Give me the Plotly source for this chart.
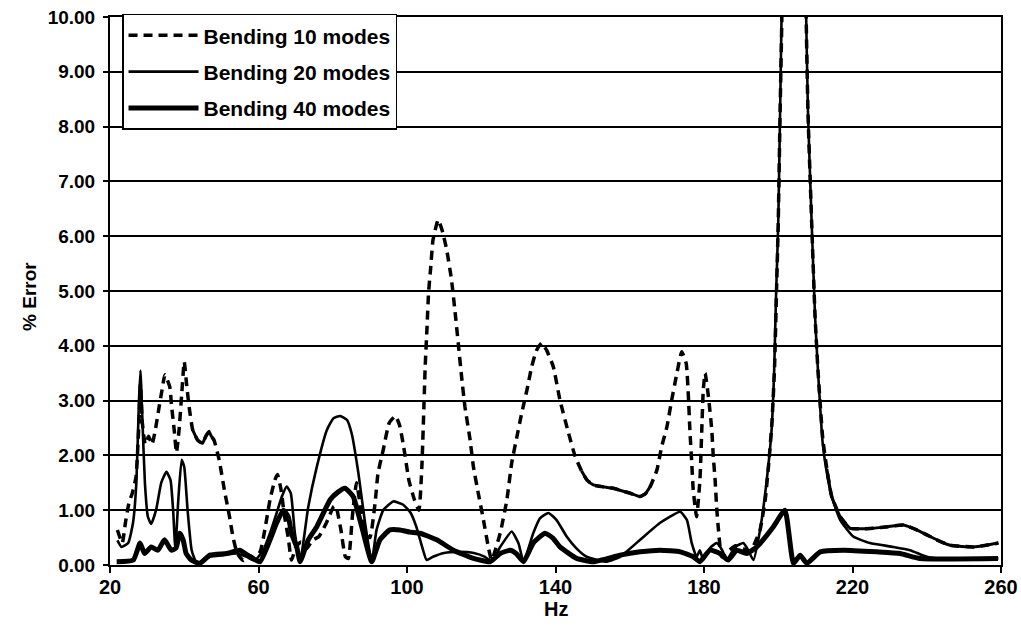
import plotly.graph_objects as go

# Frequency (Hz) and percent error for each bending-mode truncation
hz_10 = [22.0, 23.3, 24.2, 25.1, 26.0, 27.0, 27.8, 28.2, 28.7, 29.5, 30.4, 31.3, 32.2, 33.1, 34.0, 34.8,
         36.1, 36.6, 37.3, 37.9, 38.6, 39.3, 40.0, 40.6, 41.3, 42.3, 43.6, 44.9, 45.8, 46.7, 47.3, 48.0,
         49.4, 50.8, 52.2, 53.1, 54.0, 54.9, 56.0, 57.5, 59.0, 60.5, 61.7, 63.1, 64.4, 65.1, 66.0, 67.0,
         68.0, 68.9, 70.2, 71.5, 73.0, 74.5, 76.3, 78.3, 80.2, 80.8, 82.2, 83.4, 84.2, 85.3, 86.4, 87.6,
         88.8, 90.0, 91.4, 92.2, 93.6, 95.2, 96.9, 98.0, 99.1, 100.5, 102.0, 103.2, 104.0, 104.9, 105.4,
         105.8, 106.4, 107.0, 108.4, 109.5, 110.7, 112.0, 112.9, 113.8, 114.7, 115.6, 117.0, 117.9, 119.2,
         120.6, 121.9, 122.8, 125.1, 126.9, 128.2, 129.6, 130.9, 132.3, 133.6, 134.9, 136.3, 137.6, 139.4,
         141.2, 143.5, 145.3, 147.0, 148.5, 150.2, 152.5, 155.6, 158.0, 160.1, 162.8, 164.2, 165.5, 167.3,
         168.6, 170.0, 171.3, 172.7, 174.0, 175.2, 175.8, 176.2, 176.7, 177.1, 178.0, 178.9, 179.4, 179.8,
         180.3, 181.2, 182.1, 182.5, 183.0, 183.4, 183.9, 184.8, 186.5, 188.5, 190.5, 192.5, 194.0, 195.1,
         196.5, 197.5, 198.3, 199.0, 199.5, 200.0, 200.5, 201.1, 204.3, 207.4, 208.0, 209.0, 209.9, 210.7,
         212.0, 213.1, 214.4, 216.7, 219.4, 222.5, 225.6, 229.5, 233.7, 237.3, 240.0, 242.7, 246.3, 252.6,
         256.0, 259.3]
err_10 = [0.64, 0.40, 0.79, 1.13, 1.31, 1.60, 2.60, 3.30, 2.60, 2.20, 2.35, 2.20, 2.46, 2.83, 3.19, 3.47,
          3.25, 2.89, 2.46, 2.05, 2.46, 3.10, 3.71, 3.32, 2.89, 2.46, 2.28, 2.22, 2.35, 2.43, 2.35, 2.28,
          1.92, 1.37, 0.88, 0.52, 0.27, 0.15, 0.08, 0.18, 0.12, 0.25, 0.64, 1.19, 1.55, 1.65, 1.40, 0.90,
          0.50, 0.09, 0.35, 0.42, 0.30, 0.45, 0.52, 0.77, 1.06, 1.08, 0.64, 0.15, 0.12, 0.90, 1.50, 1.00,
          0.55, 0.50, 1.13, 1.68, 2.10, 2.59, 2.72, 2.55, 2.16, 1.55, 1.19, 1.00, 1.79, 3.62, 4.35,
          4.96, 5.44, 5.93, 6.30, 6.10, 5.75, 5.20, 4.65, 4.05, 3.44, 2.89, 2.28, 1.79, 1.31,
          0.82, 0.33, 0.09, 0.58, 1.19, 1.86, 2.34, 2.77, 3.19, 3.62, 3.92, 4.05, 3.92, 3.62,
          3.01, 2.41, 1.98, 1.72, 1.55, 1.46, 1.43, 1.40, 1.35, 1.31, 1.25, 1.30, 1.43, 1.73,
          2.16, 2.52, 3.01, 3.50, 3.89, 3.68, 3.07, 2.46, 1.86, 1.37, 0.88, 1.55, 2.46, 3.19,
          3.50, 3.07, 2.46, 1.98, 1.55, 1.06, 0.64, 0.15, 0.25, 0.35, 0.30, 0.25, 0.45, 0.64,
          1.20, 1.90, 2.60, 3.60, 4.90, 6.25, 8.28, 10.5, 30.0, 10.5, 8.28, 6.25, 4.56, 3.55,
          2.30, 1.75, 1.25, 0.88, 0.67, 0.66, 0.67, 0.70, 0.73, 0.64, 0.55, 0.46, 0.36, 0.33,
          0.36, 0.40]

hz_20 = [22.0, 23.1, 24.9, 26.2, 27.1, 27.8, 28.2, 28.7, 29.4, 30.2, 31.1, 32.4, 33.8, 35.2, 36.3, 37.0,
         37.6, 38.4, 39.3, 40.0, 40.9, 42.0, 43.4, 46.9, 50.5, 54.1, 56.8, 59.0, 61.5, 63.1, 64.9, 66.3,
         67.6, 68.7, 69.8, 71.2, 73.4, 75.7, 78.4, 80.2, 82.0, 83.8, 85.1, 86.9, 88.7, 90.5, 91.8, 93.6,
         96.3, 99.0, 101.0, 102.5, 104.0, 105.3, 107.0, 110.0, 114.0, 118.0, 121.0, 122.8, 125.1, 128.2,
         130.0, 131.4, 134.0, 135.8, 138.1, 140.3, 143.0, 145.7, 148.4, 153.8, 157.4, 162.8, 168.2, 173.6,
         175.4, 176.7, 178.0, 178.9, 179.8, 181.6, 183.4, 184.9, 186.1, 188.4, 190.6, 191.9, 193.3, 195.1,
         196.9, 198.2, 198.9, 199.4, 200.0, 200.5, 201.0, 204.3, 207.4, 208.0, 209.0, 209.9, 210.7, 212.0,
         213.1, 214.4, 216.7, 220.2, 224.7, 231.0, 235.5, 240.0, 244.5, 259.3]
err_20 = [0.45, 0.33, 0.40, 0.77, 1.50, 3.00, 3.55, 2.70, 1.50, 0.88, 0.75, 1.00, 1.50, 1.70, 1.55, 1.00,
          0.30, 1.19, 1.92, 1.79, 1.00, 0.27, 0.03, 0.15, 0.18, 0.21, 0.15, 0.08, 0.30, 0.58, 0.95, 1.25,
          1.43, 1.31, 0.58, 0.06, 1.06, 1.79, 2.46, 2.68, 2.72, 2.65, 2.40, 1.68, 0.77, 0.06, 0.64, 1.00,
          1.16, 1.10, 0.95, 0.70, 0.35, 0.09, 0.15, 0.22, 0.24, 0.22, 0.15, 0.06, 0.33, 0.61,
          0.40, 0.06, 0.58, 0.85, 0.95, 0.82, 0.52, 0.30, 0.15, 0.06, 0.15, 0.46, 0.77, 0.97,
          0.82, 0.40, 0.15, 0.27, 0.09, 0.31, 0.40, 0.27, 0.09, 0.33, 0.40, 0.27, 0.09, 0.64,
          1.55, 2.46, 3.55, 4.90, 6.25, 8.28, 10.5, 30.0, 10.5, 8.28, 6.25, 4.56, 3.55, 2.20,
          1.68, 1.25, 0.82, 0.52, 0.40, 0.33, 0.27, 0.15, 0.11, 0.12]

hz_40 = [21.8, 26.3, 28.1, 29.3, 31.1, 32.9, 34.7, 36.5, 37.8, 38.8, 39.7, 40.5, 41.9, 44.2, 46.9, 51.4,
         55.0, 57.7, 60.4, 63.1, 64.9, 66.7, 68.0, 69.0, 70.3, 71.2, 73.4, 75.7, 79.3, 81.4, 83.3, 85.5,
         87.8, 90.5, 92.7, 95.4, 98.1, 100.8, 103.5, 108.0, 112.5, 117.9, 122.4, 125.1, 127.8, 129.4,
         131.4, 134.0, 137.2, 139.3, 141.2, 145.7, 150.2, 157.4, 162.8, 168.2, 173.6, 177.1, 178.9, 181.6,
         184.3, 186.5, 188.8, 191.5, 194.2, 198.7, 201.8, 204.1, 205.9, 207.7, 211.3, 217.6, 226.5, 232.8,
         238.2, 259.2]
err_40 = [0.06, 0.09, 0.40, 0.21, 0.33, 0.27, 0.46, 0.27, 0.31, 0.58, 0.46, 0.21, 0.09, 0.03, 0.18, 0.21,
          0.27, 0.15, 0.06, 0.46, 0.77, 1.00, 0.88, 0.55, 0.33, 0.06, 0.46, 0.70, 1.19, 1.33, 1.40, 1.25,
          0.70, 0.06, 0.46, 0.64, 0.64, 0.60, 0.58, 0.46, 0.27, 0.12, 0.06, 0.21, 0.27, 0.21,
          0.06, 0.40, 0.58, 0.49, 0.33, 0.12, 0.06, 0.18, 0.24, 0.27, 0.24, 0.15, 0.06, 0.27,
          0.21, 0.09, 0.27, 0.21, 0.33, 0.70, 1.00, 0.03, 0.18, 0.03, 0.24, 0.27, 0.24, 0.21,
          0.12, 0.12]

series_names = ["Bending 10 modes", "Bending 20 modes", "Bending 40 modes"]
x_ticks = [20, 60, 100, 140, 180, 220, 260]
y_ticks = [0, 1, 2, 3, 4, 5, 6, 7, 8, 9, 10]

# Stretches where the 10-mode curve is dense enough that its dashes merge into a solid stroke
solid_spans_10 = [(42.3, 48.0), (146.0, 166.0), (213.0, 260.0)]

FONT = "Liberation Sans, Arial, Helvetica, sans-serif"
NARROW = "Liberation Sans Narrow, Arial Narrow, Liberation Sans, Arial, sans-serif"
SMOOTH = 0.45

fig = go.Figure()

fig.add_trace(go.Scatter(
    x=hz_10, y=err_10, name=series_names[0], mode="lines", legendgroup="g10",
    line=dict(color="black", width=3.5, dash="9px,6px", shape="spline", smoothing=SMOOTH),
))

solid_x, solid_y = [], []
for lo, hi in solid_spans_10:
    for h, e in zip(hz_10, err_10):
        if lo <= h <= hi:
            solid_x.append(h)
            solid_y.append(e)
    solid_x.append(None)
    solid_y.append(None)
fig.add_trace(go.Scatter(
    x=solid_x, y=solid_y, mode="lines", showlegend=False, hoverinfo="skip", connectgaps=False,
    line=dict(color="black", width=3, shape="spline", smoothing=SMOOTH),
))

fig.add_trace(go.Scatter(
    x=hz_20, y=err_20, name=series_names[1], mode="lines", legendgroup="g20",
    line=dict(color="black", width=2.6, shape="spline", smoothing=SMOOTH),
))
fig.add_trace(go.Scatter(
    x=hz_40, y=err_40, name=series_names[2], mode="lines", legendgroup="g40",
    line=dict(color="black", width=5, shape="spline", smoothing=SMOOTH),
))

fig.update_layout(
    width=1021, height=627,
    margin=dict(l=110, r=20, t=17, b=62, autoexpand=False),
    plot_bgcolor="white", paper_bgcolor="white",
    font=dict(family=FONT, color="black"),
    legend=dict(
        x=0.0135, y=1.006, xanchor="left", yanchor="top",
        bgcolor="white", bordercolor="black", borderwidth=1.5,
        font=dict(family=FONT, size=21, color="black", weight="bold"),
        itemwidth=70, tracegroupgap=6, traceorder="grouped",
    ),
    xaxis=dict(
        range=[20, 260], tickmode="array", tickvals=x_ticks,
        ticktext=[str(v) for v in x_ticks],
        ticks="outside", ticklen=6, tickwidth=1.5, tickcolor="black",
        showline=True, linecolor="black", linewidth=2, mirror=True,
        showgrid=False, zeroline=False, automargin=False,
        ticklabelstandoff=-3,
        tickfont=dict(family=NARROW, size=20, color="black", weight="bold"),
    ),
    yaxis=dict(
        range=[0, 10], tickmode="array", tickvals=y_ticks,
        ticktext=[f"{v:.2f}" for v in y_ticks],
        ticks="outside", ticklen=5, tickwidth=1.5, tickcolor="black",
        showline=True, linecolor="black", linewidth=2, mirror=True,
        showgrid=True, gridcolor="black", gridwidth=2, zeroline=False,
        automargin=False, ticklabelstandoff=4,
        tickfont=dict(family=FONT, size=19, color="black", weight="bold"),
    ),
    annotations=[
        dict(text="Hz", xref="paper", yref="paper", x=0.5, y=-0.08,
             xanchor="center", yanchor="middle", showarrow=False,
             font=dict(family=NARROW, size=20, color="black", weight="bold")),
        dict(text="% Error", xref="paper", yref="paper", x=-0.0898, y=0.491,
             xanchor="center", yanchor="middle", textangle=-90, showarrow=False,
             font=dict(family=FONT, size=19, color="black", weight="bold")),
    ],
)

fig.write_html("out.html")
